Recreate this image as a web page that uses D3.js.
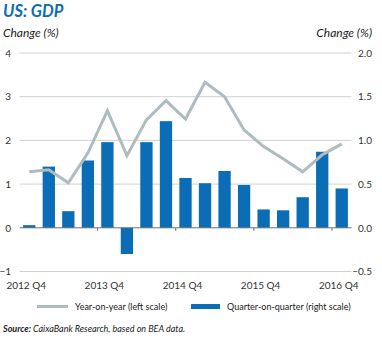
<!DOCTYPE html>
<html>
<head>
<meta charset="utf-8">
<script src="https://cdn.jsdelivr.net/npm/d3@7"></script>
<style>
  body { margin: 0; background: #fff; }
  svg { font-family: Lato, "Open Sans", sans-serif; }
</style>
</head>
<body>
<div id="chart"></div>
<script>
const quarters = ['2012 Q4', '2013 Q1', '2013 Q2', '2013 Q3', '2013 Q4', '2014 Q1', '2014 Q2', '2014 Q3', '2014 Q4',
    '2015 Q1', '2015 Q2', '2015 Q3', '2015 Q4', '2016 Q1', '2016 Q2', '2016 Q3', '2016 Q4'];
// year-on-year, left scale
const yoy = [1.28, 1.33, 1.03, 1.71, 2.68, 1.65, 2.47, 2.91, 2.49, 3.33, 3.0, 2.24, 1.86, 1.58, 1.28, 1.67, 1.92];
// quarter-on-quarter, right scale
const qoq = [0.03, 0.70, 0.19, 0.77, 0.98, -0.30, 0.98, 1.22, 0.57, 0.51, 0.65, 0.49, 0.21, 0.20, 0.35, 0.87, 0.45];
const leftTicks = [-1, 0, 1, 2, 3, 4];
const rightTicks = [-0.5, 0, 0.5, 1.0, 1.5, 2.0];
const labelQuarters = ['2012 Q4', '2013 Q4', '2014 Q4', '2015 Q4', '2016 Q4'];

const width = 382;
const height = 338;
const plot = { left: 19.5, right: 351.5, top: 53, bottom: 271.5 };

const x = d3.scaleBand()
    .domain(quarters)
    .range([plot.left, plot.right])
    .paddingInner(0.37)
    .paddingOuter(0.185);

const yL = d3.scaleLinear().domain([-1, 4]).range([plot.bottom, plot.top]);
const yR = d3.scaleLinear().domain([-0.5, 2]).range([plot.bottom, plot.top]);

const svg = d3.select('#chart')
    .append('svg')
    .attr('width', width)
    .attr('height', height);

// Title and unit labels
svg.append('text')
    .attr('x', 3).attr('y', 17)
    .attr('font-size', '16.5px').attr('font-weight', 'bold').attr('font-style', 'italic')
    .attr('fill', '#0a6cb4')
    .text('US: GDP');

svg.append('text')
    .attr('x', 3).attr('y', 37)
    .attr('font-size', '12px').attr('font-style', 'italic').attr('fill', '#222')
    .text('Change (%)');

svg.append('text')
    .attr('x', 372).attr('y', 37)
    .attr('text-anchor', 'end')
    .attr('font-size', '12px').attr('font-style', 'italic').attr('fill', '#222')
    .text('Change (%)');

// Gridlines
svg.append('g')
    .selectAll('line')
    .data(leftTicks.filter(d => d !== 0))
    .enter()
    .append('line')
    .attr('x1', plot.left).attr('x2', plot.right)
    .attr('y1', d => yL(d)).attr('y2', d => yL(d))
    .attr('stroke', '#cfd2d4').attr('stroke-width', 1);

// Left axis labels
svg.append('g')
    .attr('transform', 'translate(11,0)')
    .call(d3.axisLeft(yL).tickValues(leftTicks).tickFormat(d3.format('d')).tickSize(0).tickPadding(0))
    .call(g => g.select('.domain').remove())
    .selectAll('text')
    .attr('font-family', 'Lato, "Open Sans", sans-serif')
    .attr('font-size', '10px').attr('fill', '#333');

// Right axis labels
svg.append('g')
    .attr('transform', 'translate(372,0)')
    .call(d3.axisLeft(yR).tickValues(rightTicks).tickFormat(d3.format('.1f')).tickSize(0).tickPadding(0))
    .call(g => g.select('.domain').remove())
    .selectAll('text')
    .attr('font-family', 'Lato, "Open Sans", sans-serif')
    .attr('font-size', '10px').attr('fill', '#333');

// Bars
svg.append('g')
    .selectAll('rect')
    .data(quarters.map((q, i) => [q, qoq[i]]))
    .enter()
    .append('rect')
    .attr('x', d => x(d[0]))
    .attr('y', d => d[1] >= 0 ? yR(d[1]) : yR(0))
    .attr('width', x.bandwidth())
    .attr('height', d => Math.abs(yR(d[1]) - yR(0)))
    .attr('fill', '#0a6db6');

// Zero line with small ticks every four quarters
const zeroY = yL(0);
svg.append('line')
    .attr('x1', plot.left).attr('x2', plot.right)
    .attr('y1', zeroY).attr('y2', zeroY)
    .attr('stroke', '#6b6e70').attr('stroke-width', 1);

svg.append('g')
    .selectAll('line')
    .data(labelQuarters.slice(1))
    .enter()
    .append('line')
    .attr('x1', d => x(d) - x.step() * x.paddingInner() / 2)
    .attr('x2', d => x(d) - x.step() * x.paddingInner() / 2)
    .attr('y1', zeroY).attr('y2', zeroY + 3)
    .attr('stroke', '#6b6e70');

// Year-on-year line
const line = d3.line()
    .x((d, i) => x(quarters[i]) + x.bandwidth() / 2)
    .y(d => yL(d));

svg.append('path')
    .datum(yoy)
    .attr('d', line)
    .attr('fill', 'none')
    .attr('stroke', '#aebcc0')
    .attr('stroke-width', 3)
    .attr('stroke-linejoin', 'miter');

// X labels
svg.append('g')
    .selectAll('text')
    .data(labelQuarters)
    .enter()
    .append('text')
    .attr('x', d => x(d) + x.bandwidth() / 2 - 3)
    .attr('y', 289)
    .attr('text-anchor', 'middle')
    .attr('font-size', '10px').attr('fill', '#333')
    .text(d => d);

// Legend
svg.append('line')
    .attr('x1', 37).attr('x2', 68)
    .attr('y1', 306.5).attr('y2', 306.5)
    .attr('stroke', '#aebcc0').attr('stroke-width', 3);
svg.append('text')
    .attr('x', 75).attr('y', 310)
    .attr('font-size', '9px').attr('fill', '#222')
    .text('Year-on-year (left scale)');

svg.append('rect')
    .attr('x', 191).attr('y', 304).attr('width', 29).attr('height', 5)
    .attr('fill', '#0a6db6');
svg.append('text')
    .attr('x', 227).attr('y', 310)
    .attr('font-size', '9px').attr('fill', '#222')
    .text('Quarter-on-quarter (right scale)');

// Source
const src = svg.append('text')
    .attr('x', 3).attr('y', 332)
    .attr('font-size', '9px').attr('font-style', 'italic').attr('fill', '#222');
src.append('tspan').attr('font-weight', 'bold').text('Source: ');
src.append('tspan').text('CaixaBank Research, based on BEA data.');
</script>
</body>
</html>
